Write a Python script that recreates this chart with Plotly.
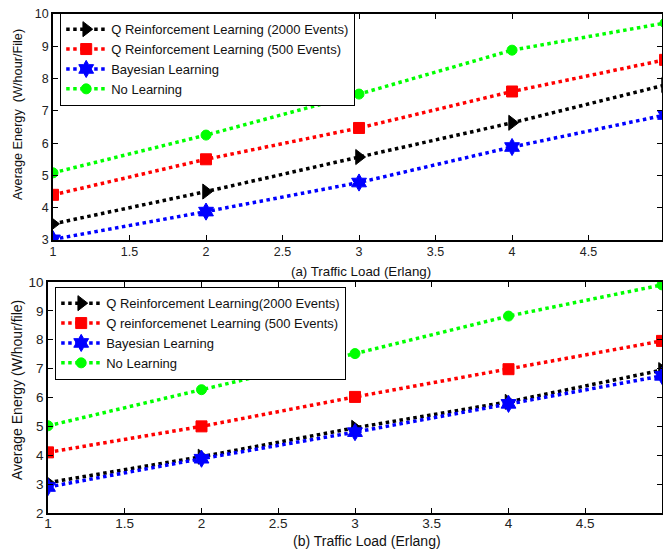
import plotly.graph_objects as go

# ---------------- data ----------------
traffic_load = [1, 2, 3, 4, 5]

# panel (a)
a_q2000 = [3.5, 4.5, 5.57, 6.63, 7.8]
a_q500 = [4.4, 5.5, 6.47, 7.6, 8.58]
a_bayes = [3.02, 3.88, 4.78, 5.88, 6.87]
a_none = [5.08, 6.25, 7.52, 8.88, 9.72]

# panel (b)
b_q2000 = [3.05, 3.95, 4.95, 5.85, 6.95]
b_q500 = [4.1, 5.0, 6.02, 6.98, 7.96]
b_bayes = [2.9, 3.88, 4.8, 5.78, 6.75]
b_none = [5.02, 6.27, 7.52, 8.82, 9.9]

names_a = ["Q Reinforcement Learning (2000 Events)",
           "Q Reinforcement Learning (500 Events)",
           "Bayesian Learning",
           "No Learning"]
names_b = ["Q Reinforcement Learning(2000 Events)",
           "Q reinforcemenet Learning (500 Events)",
           "Bayesian Learning",
           "No Learning"]

x_ticks = [1, 1.5, 2, 2.5, 3, 3.5, 4, 4.5, 5]
x_ticklabels = ["1", "1.5", "2", "2.5", "3", "3.5", "4", "4.5", "5"]
ya_ticks = [3, 4, 5, 6, 7, 8, 9, 10]
yb_ticks = [2, 3, 4, 5, 6, 7, 8, 9, 10]

colors = ["#000000", "#ff0000", "#0000ff", "#00ff00"]
symbols = ["triangle-right", "square", "hexagram", "circle"]
msizes = [13, 11, 13, 10]

W, H = 663, 552
FONT = "Liberation Sans, Arial, sans-serif"

fig = go.Figure()

for vals, name, c, s, ms in zip([a_q2000, a_q500, a_bayes, a_none], names_a, colors, symbols, msizes):
    fig.add_trace(go.Scatter(
        x=traffic_load, y=vals, name=name, mode="lines+markers",
        line=dict(color=c, width=3.5, dash="dot"),
        marker=dict(symbol=s, size=ms, color=c, line=dict(color=c, width=1)),
        xaxis="x", yaxis="y", legend="legend"))

for vals, name, c, s, ms in zip([b_q2000, b_q500, b_bayes, b_none], names_b, colors, symbols, msizes):
    fig.add_trace(go.Scatter(
        x=traffic_load, y=vals, name=name, mode="lines+markers",
        line=dict(color=c, width=3.5, dash="dot"),
        marker=dict(symbol=s, size=ms, color=c, line=dict(color=c, width=1)),
        xaxis="x2", yaxis="y2", legend="legend2"))

def px_x(p):
    return p / W

def px_y(p):
    return 1 - p / H

def axis_style(fs):
    return dict(
        showline=True, linecolor="black", linewidth=1.5, mirror="ticks",
        ticks="inside", ticklen=5, tickcolor="black", showgrid=False, zeroline=False,
        automargin=False,
        tickfont=dict(family=FONT, size=fs, color="#222"),
    )

legend_common = dict(
    xanchor="left", yanchor="top",
    bgcolor="white", bordercolor="black", borderwidth=1.2,
    font=dict(family=FONT, size=13, color="#111"),
    tracegroupgap=0, itemwidth=40,
)

fig.update_layout(
    width=W, height=H,
    margin=dict(l=0, r=0, t=0, b=0, pad=0),
    paper_bgcolor="white", plot_bgcolor="white",
    font=dict(family=FONT, size=13, color="#222"),
    xaxis=dict(domain=[px_x(53), px_x(662)], range=[1, 4.98], anchor="y",
               tickvals=x_ticks, ticktext=x_ticklabels, ticklabelstandoff=-1,
               **axis_style(12.5)),
    yaxis=dict(domain=[px_y(240), px_y(14)], range=[3, 10], anchor="x",
               tickvals=ya_ticks, **axis_style(12.5)),
    xaxis2=dict(domain=[px_x(48), px_x(662)], range=[1, 5], anchor="y2",
                tickvals=x_ticks, ticktext=x_ticklabels, ticklabelstandoff=-3,
                **axis_style(13.5)),
    yaxis2=dict(domain=[px_y(513), px_y(282)], range=[2, 10], anchor="x2",
                tickvals=yb_ticks, **axis_style(13.5)),
    legend=dict(x=px_x(60), y=px_y(13), **legend_common),
    legend2=dict(x=px_x(55), y=px_y(287), **legend_common),
    annotations=[
        dict(text="(a) Traffic Load (Erlang)", x=px_x(361), y=px_y(271),
             xref="paper", yref="paper", showarrow=False,
             xanchor="center", yanchor="middle",
             font=dict(family=FONT, size=13.3, color="#111")),
        dict(text="(b) Traffic Load (Erlang)", x=px_x(367), y=px_y(541),
             xref="paper", yref="paper", showarrow=False,
             xanchor="center", yanchor="middle",
             font=dict(family=FONT, size=14, color="#111")),
        dict(text="Average Energy  (W/hour/File)", x=px_x(18), y=px_y(115),
             xref="paper", yref="paper", showarrow=False, textangle=-90,
             xanchor="center", yanchor="middle",
             font=dict(family=FONT, size=12.7, color="#111")),
        dict(text="Average Energy (W/hour/file)", x=px_x(17), y=px_y(390),
             xref="paper", yref="paper", showarrow=False, textangle=-90,
             xanchor="center", yanchor="middle",
             font=dict(family=FONT, size=14, color="#111")),
    ],
)

fig.write_html("out.html", config={"displayModeBar": False},
               post_script="document.body.style.margin='0';")
